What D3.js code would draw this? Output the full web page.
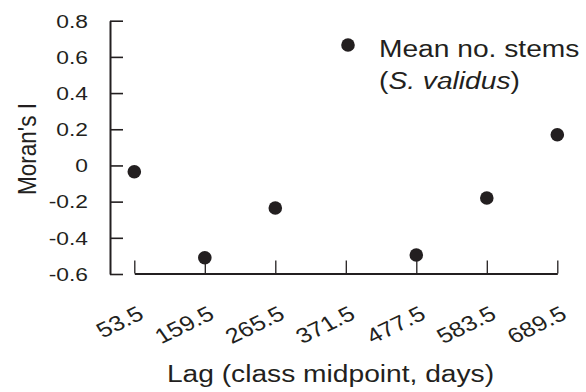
<!DOCTYPE html>
<html>
<head>
<meta charset="utf-8">
<script src="https://cdn.jsdelivr.net/npm/d3@7"></script>
<style>
  html, body { margin: 0; padding: 0; background: #ffffff; }
  svg { display: block; font-family: "Liberation Sans", Arial, Helvetica, sans-serif; }
</style>
</head>
<body>
<svg id="chart" width="586" height="392"></svg>
<script>
// ---- data ----
const lagValues = [53.5, 159.5, 265.5, 371.5, 477.5, 583.5, 689.5];
const lagLabels = ["53.5", "159.5", "265.5", "371.5", "477.5", "583.5", "689.5"];
const moranI = [-0.035, -0.51, -0.235, null, -0.495, -0.18, 0.17];
const yTickValues = [-0.6, -0.4, -0.2, 0, 0.2, 0.4, 0.6, 0.8];
const yTickLabels = ["-0.6", "-0.4", "-0.2", "0", "0.2", "0.4", "0.6", "0.8"];
const legendLabel = "Mean no. stems";
const legendSpecies = "S. validus";
const xTitle = "Lag (class midpoint, days)";
const yTitle = "Moran's I";

const ink = "#231f20";
const svg = d3.select("#chart");

const x = d3.scaleLinear().domain([53.5, 689.5]).range([134.3, 557.3]);
const y = d3.scaleLinear().domain([-0.6, 0.8]).range([274, 20.7]);

// helper: horizontally stretched text anchored at (px,py)
function stretchedText(g, px, py, sx, rot) {
  return g.append("text")
    .attr("transform", `translate(${px},${py}) scale(${sx},1)` + (rot ? ` rotate(${rot})` : ""));
}

// y axis
const yAxisG = svg.append("g").attr("transform", "translate(110,0)")
  .call(d3.axisLeft(y).tickValues(yTickValues).tickSize(-13).tickSizeOuter(0).tickFormat(""));
yAxisG.select(".domain").attr("stroke", ink).attr("stroke-width", 2);
yAxisG.selectAll(".tick line").attr("stroke", ink).attr("stroke-width", 1.6);
yAxisG.selectAll(".tick text").remove();

yTickValues.forEach((v, i) => {
  stretchedText(svg, 88, y(v), 1.2)
    .attr("text-anchor", "end").attr("dy", "0.36em")
    .attr("font-size", 19).attr("fill", ink)
    .text(yTickLabels[i]);
});

// x axis
const xAxisG = svg.append("g").attr("transform", "translate(0,273.5)")
  .call(d3.axisBottom(x).tickValues(lagValues).tickSize(-13).tickSizeOuter(0).tickFormat(""));
xAxisG.select(".domain").attr("stroke", ink).attr("stroke-width", 2);
xAxisG.selectAll(".tick line").attr("stroke", ink).attr("stroke-width", 1.3);
xAxisG.selectAll(".tick text").remove();

lagValues.forEach((v, i) => {
  stretchedText(svg, x(v) + 11, 318, 1.2, -30)
    .attr("text-anchor", "end")
    .attr("font-size", 21).attr("fill", ink)
    .text(lagLabels[i]);
});

// points
svg.append("g").selectAll("circle")
  .data(lagValues.map((v, i) => ({ lag: v, val: moranI[i] })).filter(d => d.val !== null))
  .join("circle")
  .attr("cx", d => x(d.lag))
  .attr("cy", d => y(d.val))
  .attr("r", 6.8)
  .attr("fill", ink);

// axis titles
stretchedText(svg, 330.5, 381.5, 1.15)
  .attr("text-anchor", "middle").attr("font-size", 24.5).attr("fill", ink)
  .text(xTitle);

svg.append("text")
  .attr("transform", `translate(36,149) scale(1.15,1) rotate(-90)`)
  .attr("text-anchor", "middle").attr("font-size", 22.5).attr("fill", ink)
  .text(yTitle);

// legend
svg.append("circle").attr("cx", 348).attr("cy", 45).attr("r", 6.8).attr("fill", ink);
stretchedText(svg, 379, 56.7, 1.15)
  .attr("font-size", 24.5).attr("fill", ink)
  .text(legendLabel);
const sp = stretchedText(svg, 379, 88.5, 1.15)
  .attr("font-size", 24.5).attr("fill", ink);
sp.append("tspan").text("(");
sp.append("tspan").attr("font-style", "italic").text(legendSpecies);
sp.append("tspan").text(")");
</script>
</body>
</html>
